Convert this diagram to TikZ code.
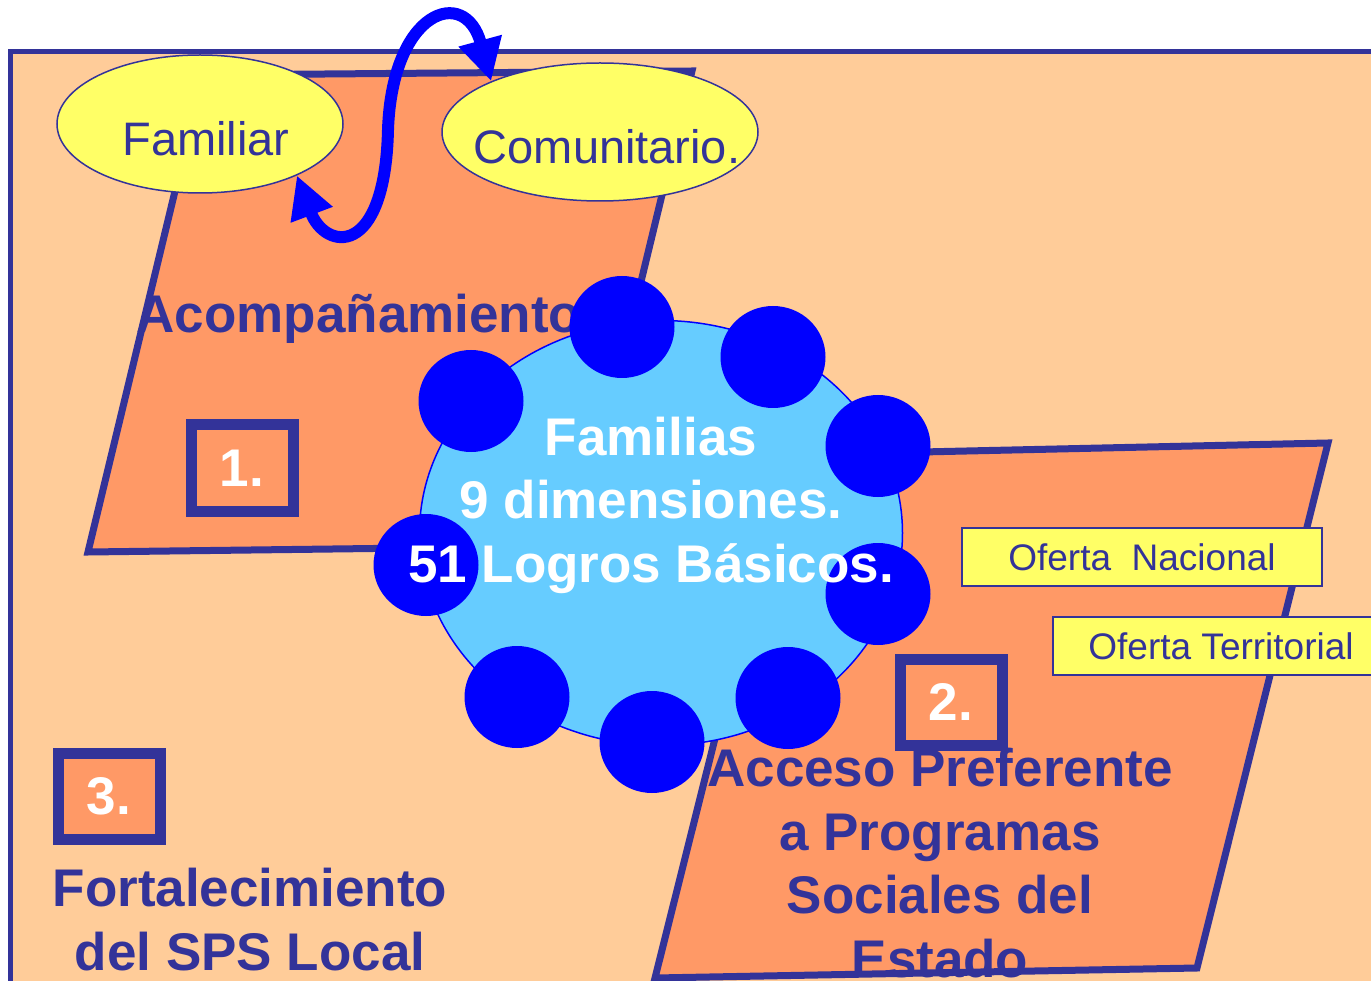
\documentclass[tikz,border=0pt]{standalone}
\usepackage{fontspec}
\setmainfont{Liberation Sans}
\usetikzlibrary{shapes.geometric,arrows.meta}

\definecolor{frameblue}{RGB}{51,51,153}
\definecolor{peach}{RGB}{255,204,153}
\definecolor{salmon}{RGB}{255,153,102}
\definecolor{paleyellow}{RGB}{255,255,102}
\definecolor{skyblue}{RGB}{102,204,255}
\definecolor{dotblue}{RGB}{0,0,255}

\newcommand{\ovaltext}[2]{\makebox[0pt]{\hspace*{#1}\raisebox{-32pt}[0pt][0pt]{#2}}}

\tikzset{every picture/.style={line width=0.75pt}}
\tikzset{
  bigtext/.style={font=\bfseries\fontsize{53}{63.5}\selectfont, text=frameblue, align=center, inner sep=0pt},
  whitetext/.style={font=\bfseries\fontsize{53}{63.5}\selectfont, text=white, align=center, inner sep=0pt},
  oval/.style={ellipse, draw=frameblue, line width=1.5, fill=paleyellow, inner sep=0pt, text=frameblue, font=\fontsize{47}{56}\selectfont},
  numbox/.style={rectangle, draw=frameblue, line width=11, fill=salmon, minimum width=102, minimum height=86, inner sep=0pt, text=white, font=\bfseries\fontsize{53}{63.5}\selectfont},
  dot/.style={ellipse, fill=dotblue, minimum width=105, minimum height=102, inner sep=0pt},
  oferta/.style={rectangle, draw=frameblue, line width=2, fill=paleyellow, minimum height=58, inner sep=0pt, text=frameblue, font=\fontsize{37}{44}\selectfont},
  twoway/.style={draw=dotblue, line width=12, {Triangle[length=42pt,width=42pt]}-{Triangle[length=42pt,width=42pt]}},
  slab/.style={draw=frameblue, line width=7, fill=salmon, line join=miter}
}

\begin{document}
\begin{tikzpicture}[x=1pt,y=1pt,yscale=-1,xscale=1]
\useasboundingbox (0,0) rectangle (1371,981);
\clip (0,0) rectangle (1371,981);
\fill[white] (0,0) rectangle (1371,981);

%Shape: Frame
\draw[draw=frameblue, line width=5, fill=peach] (10,52) rectangle (1420,1020);

%Shape: Parallelogram 1
\draw[slab] (203,75) -- (692,71) -- (577,546) -- (88,552) -- cycle;
%Shape: Parallelogram 2
\draw[slab] (786,455) -- (1328,443) -- (1197,968) -- (655,978) -- cycle;

% Ellipses
\node[oval, minimum width=286, minimum height=138] (familiar) at (200,124) {\ovaltext{12pt}{Familiar}};
\node[oval, minimum width=316, minimum height=138] (comunitario) at (600,132) {\ovaltext{14pt}{Comunitario.}};

% Curved arrow
\draw[twoway] (familiar.-28) .. controls (325,250) and (385,260) .. (388,130)
  .. controls (392,10) and (465,-15) .. (comunitario.155);

% Text Node
\node[bigtext, anchor=base] (acomp) at (359,333) {Acompañamiento};
\node[numbox] (uno) at (242,468) {1.};

% Circle and dots
\node[ellipse, draw=dotblue, line width=1.5, fill=skyblue, minimum width=483, minimum height=425] (familias) at (661,533) {};
\foreach \i/\x/\y in {1/622/327, 2/773/357, 3/878/446, 4/878/594, 5/788/698,
  6/652/742, 7/517/697, 8/426/565, 9/471/401}
  \node[dot] (d\i) at (\x,\y) {};
\node[whitetext, anchor=base] (logros) at (651,582) {Familias\\9 dimensiones.\\51 Logros Básicos.};

% Oferta boxes
\node[oferta, minimum width=360] (nacional) at (1142,557) {Oferta\ \ Nacional};
\node[oferta, minimum width=336] (territorial) at (1221,646) {Oferta Territorial};

% Text Node
\node[numbox] (dos) at (951,702) {2.};
\node[bigtext, anchor=base] (acceso) at (940,977) {Acceso Preferente\\a Programas\\Sociales del\\Estado};

% Text Node
\node[numbox] (tres) at (109,796) {3.};
\node[bigtext, anchor=base] (fortal) at (250,970) {Fortalecimiento\\del SPS Local};

\end{tikzpicture}
\end{document}
